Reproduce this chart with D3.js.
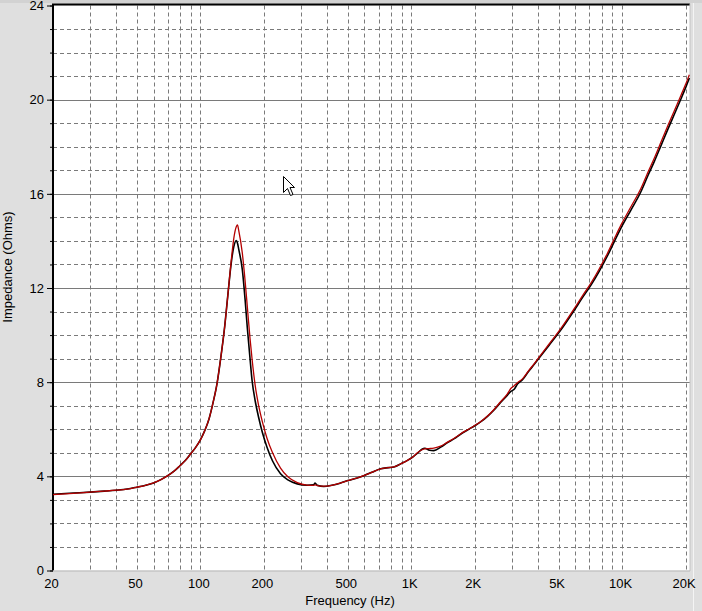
<!DOCTYPE html>
<html>
<head>
<meta charset="utf-8">
<script src="https://cdn.jsdelivr.net/npm/d3@7"></script>
<style>
  html, body { margin: 0; padding: 0; background: #dfdfdf; }
  svg { display: block; }
  text { font-family: "Liberation Sans", Arial, sans-serif; font-size: 13px; fill: #000; }
</style>
</head>
<body>
<div id="chart"></div>
<script>
// frequency points (Hz), shared by both sweeps
var freq = [20, 25, 30, 35, 40, 45, 50, 55, 60, 65, 70, 75, 80, 85, 90, 95, 100, 105, 110, 115,
  120, 125, 130, 135, 140, 144, 148, 150, 152, 158, 163, 167, 172, 176, 182, 189, 197, 207, 220,
  240, 260, 288, 320, 345, 350, 358, 385, 420, 460, 500, 550, 600, 650, 716, 780, 828, 900, 960,
  1020, 1070, 1120, 1160, 1220, 1280, 1380, 1480, 1600, 1720, 1850, 2000, 2140, 2300, 2470, 2660,
  2860, 2960, 3080, 3190, 3370, 3600, 3850, 4120, 4500, 5130, 5930, 6500, 7120, 7800, 8540, 9200,
  9890, 11000, 12300, 13300, 14230, 15300, 16480, 17700, 19060, 20000, 20850];

// impedance, black trace (Ohms)
var zBlack = [3.24, 3.29, 3.33, 3.37, 3.41, 3.46, 3.54, 3.62, 3.72, 3.86, 4.03, 4.22, 4.45, 4.68, 4.96, 5.23, 5.55, 5.95, 6.45, 7.15,
  7.95, 9.05, 10.25, 11.7, 13.05, 13.75, 14.02, 13.9, 13.65, 12.8, 11.5, 10.3, 9.0, 8.05, 7.2, 6.5, 5.85, 5.24, 4.65,
  4.11, 3.85, 3.68, 3.62, 3.64, 3.72, 3.62, 3.57, 3.62, 3.71, 3.82, 3.92, 4.04, 4.17, 4.32, 4.37, 4.40, 4.55, 4.68,
  4.83, 4.98, 5.14, 5.19, 5.11, 5.09, 5.24, 5.42, 5.60, 5.80, 5.97, 6.15, 6.32, 6.55, 6.82, 7.15,
  7.45, 7.60, 7.70, 7.92, 8.10, 8.45, 8.78, 9.12, 9.56, 10.22, 11.05, 11.6, 12.12, 12.72, 13.38, 13.98,
  14.55, 15.3, 16.1, 16.8, 17.38, 18.05, 18.74, 19.38, 20.05, 20.5, 20.92];

// impedance, red trace (Ohms)
var zRed = [3.22, 3.28, 3.33, 3.37, 3.41, 3.46, 3.54, 3.62, 3.72, 3.86, 4.03, 4.22, 4.45, 4.68, 4.96, 5.23, 5.55, 5.95, 6.45, 7.15,
  7.95, 9.05, 10.25, 11.7, 13.15, 14.1, 14.6, 14.68, 14.45, 13.5, 12.3, 11.2, 9.85, 8.95, 7.85, 7.0, 6.3, 5.62, 5.0,
  4.35, 3.98, 3.73, 3.63, 3.62, 3.64, 3.61, 3.58, 3.62, 3.71, 3.82, 3.92, 4.04, 4.17, 4.32, 4.37, 4.40, 4.55, 4.68,
  4.83, 5.0, 5.12, 5.17, 5.18, 5.20, 5.28, 5.44, 5.62, 5.81, 5.98, 6.16, 6.33, 6.56, 6.84, 7.18,
  7.50, 7.72, 7.85, 7.98, 8.14, 8.48, 8.81, 9.16, 9.61, 10.28, 11.12, 11.68, 12.21, 12.82, 13.49, 14.1,
  14.68, 15.44, 16.24, 16.94, 17.52, 18.2, 18.89, 19.53, 20.2, 20.64, 21.06];

var xTickVals = [20, 50, 100, 200, 500, 1000, 2000, 5000, 10000, 20000];
var xTickLabels = ['20', '50', '100', '200', '500', '1K', '2K', '5K', '10K', '20K'];
var xGridVals = [30, 40, 50, 60, 70, 80, 90, 100, 200, 300, 400, 500, 600, 700, 800, 900, 1000,
  2000, 3000, 4000, 5000, 6000, 7000, 8000, 9000, 10000, 20000];
var yMajor = [0, 4, 8, 12, 16, 20, 24];
var yMinor = d3.range(0, 25);

(function(){
  var width = 702, height = 611,
      pLeft = 53, pRight = 690, pTop = 5.5, pBottom = 570.5;

  var svg = d3.select('#chart').append('svg')
    .attr('width', width)
    .attr('height', height);

  svg.append('rect').attr('width', width).attr('height', height).attr('fill', '#dfdfdf');
  // window edge bits
  svg.append('rect').attr('x', 0).attr('y', 0).attr('width', width).attr('height', 3).attr('fill', '#d2d2d2');
  svg.append('line').attr('x1', 693.5).attr('x2', 693.5).attr('y1', 3).attr('y2', height)
    .attr('stroke', '#f4f4f4');

  // log scale runs a little past 20K to the frame edge
  var x = d3.scaleLog().domain([20, 21000]).range([pLeft, pRight]);
  var y = d3.scaleLinear().domain([0, 24]).range([pBottom, pTop]);

  svg.append('rect')
    .attr('x', pLeft).attr('y', pTop)
    .attr('width', pRight - pLeft).attr('height', pBottom - pTop)
    .attr('fill', '#fff');

  var grid = svg.append('g');

  grid.selectAll('.hgrid')
    .data(yMinor.filter(function(d){ return d > 0 && d < 24; }))
    .enter().append('line')
    .attr('x1', pLeft).attr('x2', pRight)
    .attr('y1', function(d){ return Math.round(y(d)) + 0.5; })
    .attr('y2', function(d){ return Math.round(y(d)) + 0.5; })
    .attr('stroke', '#7a7a7a')
    .attr('stroke-dasharray', function(d){ return d % 4 === 0 ? null : '4,3'; });

  grid.selectAll('.vgrid')
    .data(xGridVals)
    .enter().append('line')
    .attr('x1', function(d){ return Math.round(x(d)) + 0.5; })
    .attr('x2', function(d){ return Math.round(x(d)) + 0.5; })
    .attr('y1', pTop).attr('y2', pBottom)
    .attr('stroke', '#7a7a7a')
    .attr('stroke-dasharray', '4,3');

  // sunken frame
  svg.append('line').attr('x1', pLeft).attr('x2', pLeft).attr('y1', pTop - 1.5).attr('y2', pBottom)
    .attr('stroke', '#000').attr('stroke-width', 2);
  svg.append('line').attr('x1', pLeft - 1).attr('x2', pRight).attr('y1', pTop - 1).attr('y2', pTop - 1)
    .attr('stroke', '#000').attr('stroke-width', 2);
  svg.append('line').attr('x1', pRight).attr('x2', pRight).attr('y1', pTop - 2).attr('y2', pBottom + 0.5)
    .attr('stroke', '#c4c4c4');
  svg.append('line').attr('x1', pLeft).attr('x2', pRight).attr('y1', pBottom + 0.5).attr('y2', pBottom + 0.5)
    .attr('stroke', '#b8b8b8');

  // y axis ticks + labels
  var yAxisMinor = d3.axisLeft(y).tickValues(yMinor).tickSize(3).tickFormat('');
  var yAxisMajor = d3.axisLeft(y).tickValues(yMajor).tickSize(6).tickPadding(3).tickFormat(d3.format('d'));

  svg.append('g').attr('transform', 'translate(' + pLeft + ',0)').call(yAxisMinor)
    .call(function(g){ g.select('.domain').remove(); g.selectAll('line').attr('stroke', '#000'); });
  svg.append('g').attr('transform', 'translate(' + pLeft + ',0)').call(yAxisMajor)
    .call(function(g){
      g.select('.domain').remove();
      g.selectAll('line').attr('stroke', '#000');
      g.selectAll('text').attr('font-size', 13).attr('font-family', '"Liberation Sans", Arial, sans-serif')
        .attr('fill', '#000').attr('x', -9);
    });

  // x axis labels
  var xAxis = d3.axisBottom(x).tickValues(xTickVals).tickSize(0).tickPadding(8)
    .tickFormat(function(d, i){ return xTickLabels[i]; });
  svg.append('g').attr('transform', 'translate(0,' + pBottom + ')').call(xAxis)
    .call(function(g){
      g.select('.domain').remove();
      g.selectAll('text').attr('font-size', 13).attr('font-family', '"Liberation Sans", Arial, sans-serif')
        .attr('fill', '#000').attr('dx', -2);
    });

  svg.append('text')
    .attr('x', 350).attr('y', 605)
    .attr('text-anchor', 'middle')
    .text('Frequency (Hz)');

  svg.append('text')
    .attr('transform', 'translate(12,267) rotate(-90)')
    .attr('text-anchor', 'middle')
    .text('Impedance (Ohms)');

  // traces
  var line = d3.line()
    .x(function(d){ return x(d[0]); })
    .y(function(d){ return y(d[1]); })
    .curve(d3.curveMonotoneX);

  var plot = svg.append('g');

  plot.append('path')
    .datum(freq.map(function(f, i){ return [f, zBlack[i]]; }))
    .attr('d', line)
    .attr('fill', 'none')
    .attr('stroke', '#000')
    .attr('stroke-width', 1.6);

  plot.append('path')
    .datum(freq.map(function(f, i){ return [f, zRed[i]]; }))
    .attr('d', line)
    .attr('fill', 'none')
    .attr('stroke', '#b40000')
    .attr('stroke-width', 1.3);

  // mouse pointer left in the screenshot
  svg.append('path')
    .attr('transform', 'translate(283.5,176.5)')
    .attr('d', 'M0,0 L0,16 L4,12 L7,19 L9.5,18 L6.5,11 L11,11 Z')
    .attr('fill', '#fff')
    .attr('stroke', '#000')
    .attr('stroke-width', 1)
    .attr('stroke-linejoin', 'miter');
})();
</script>
</body>
</html>
